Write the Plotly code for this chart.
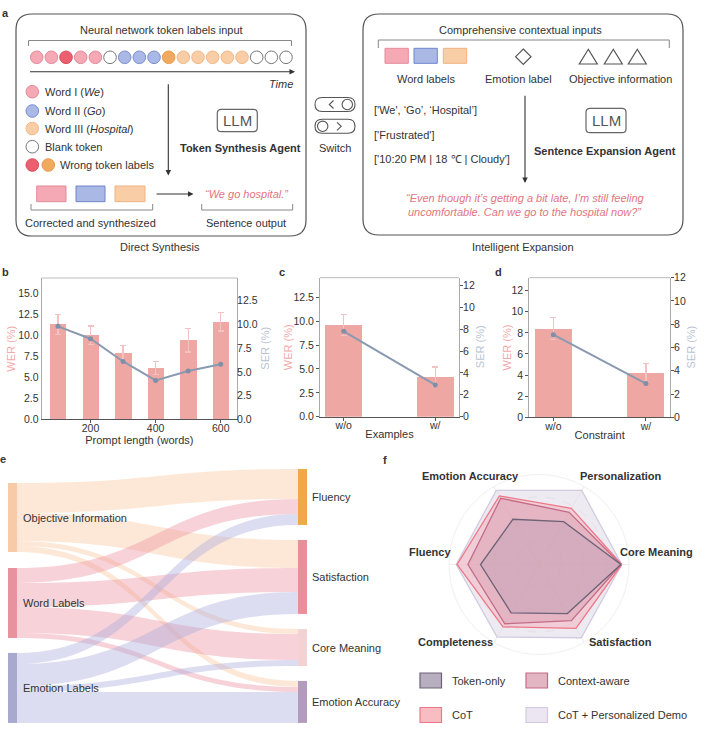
import plotly.graph_objects as go

W, H = 705, 739
FONT = "Liberation Sans, Arial, sans-serif"
TXT = "#333333"

# ---------------- data ----------------
prompt_len = [100, 200, 300, 400, 500, 600]
wer_b = [11.3, 10.0, 7.9, 6.1, 9.4, 11.6]
wer_b_err = [1.2, 1.1, 0.9, 0.8, 1.4, 1.1]
ser_b = [9.8, 8.5, 6.1, 4.1, 5.1, 5.8]

cats = ["w/o", "w/"]
wer_c = [9.6, 4.2]
wer_c_err = [1.1, 1.0]
ser_c = [7.8, 2.9]

wer_d = [8.4, 4.2]
wer_d_err = [1.05, 0.92]
ser_d = [7.1, 2.9]

sankey_sources = ["Objective Information", "Word Labels", "Emotion Labels"]
sankey_targets = ["Fluency", "Satisfaction", "Core Meaning", "Emotion Accuracy"]
flow_objective = [30, 28, 5, 6]
flow_word = [15, 24, 26, 5]
flow_emotion = [11, 22, 6, 31]

radar_dims = ["Core Meaning", "Personalization", "Emotion Accuracy",
              "Fluency", "Completeness", "Satisfaction"]
radar_demo = [92, 95, 95, 92, 93, 94]
radar_cot = [92, 72, 88, 91, 80, 82]
radar_context = [91, 67, 85, 79, 76, 72]
radar_token = [91, 55, 58, 65, 62, 63]

token_seq = ["w1", "w1", "w1x", "w1", "w1", "b", "w2", "w2", "w2",
             "w3x", "w3", "w3", "w3", "w3", "w3", "b", "b", "b"]

# ---------------- helpers (pixel -> paper) ----------------
def X(px):
    return px / W


def Y(py):
    return 1 - py / H


shapes = []
annos = []


def text(x, y, s, size=11, color=TXT, xanchor="center", yanchor="middle", bold=False, angle=0):
    if bold:
        s = "<b>" + s + "</b>"
    annos.append(dict(x=X(x), y=Y(y), xref="paper", yref="paper", text=s, showarrow=False,
                      xanchor=xanchor, yanchor=yanchor, textangle=angle,
                      font=dict(family=FONT, size=size, color=color)))


def rrect(x0, y0, x1, y1, r, line="#555", width=1.2, fill="rgba(0,0,0,0)"):
    p = (f"M{X(x0 + r)},{Y(y0)} L{X(x1 - r)},{Y(y0)} Q{X(x1)},{Y(y0)} {X(x1)},{Y(y0 + r)} "
         f"L{X(x1)},{Y(y1 - r)} Q{X(x1)},{Y(y1)} {X(x1 - r)},{Y(y1)} "
         f"L{X(x0 + r)},{Y(y1)} Q{X(x0)},{Y(y1)} {X(x0)},{Y(y1 - r)} "
         f"L{X(x0)},{Y(y0 + r)} Q{X(x0)},{Y(y0)} {X(x0 + r)},{Y(y0)} Z")
    shapes.append(dict(type="path", path=p, xref="paper", yref="paper",
                       line=dict(color=line, width=width), fillcolor=fill, layer="above"))


def rect(x0, y0, x1, y1, fill, line, width=1):
    shapes.append(dict(type="rect", x0=X(x0), x1=X(x1), y0=Y(y1), y1=Y(y0), xref="paper",
                       yref="paper", fillcolor=fill, line=dict(color=line, width=width), layer="above"))


def circ(cx, cy, r, fill, line, width=1):
    shapes.append(dict(type="circle", x0=X(cx - r), x1=X(cx + r), y0=Y(cy + r), y1=Y(cy - r),
                       xref="paper", yref="paper", fillcolor=fill,
                       line=dict(color=line, width=width), layer="above"))


def poly(pts, line="#555", width=1.2, fill="rgba(0,0,0,0)", close=False):
    p = "M" + " L".join(f"{X(a)},{Y(b)}" for a, b in pts)
    if close:
        p += " Z"
    shapes.append(dict(type="path", path=p, xref="paper", yref="paper",
                       line=dict(color=line, width=width), fillcolor=fill, layer="above"))


def arrow(xt, yt, xh, yh, color="#333"):
    annos.append(dict(x=X(xh), y=Y(yh), xref="paper", yref="paper", text="", showarrow=True,
                      ax=xt - xh, ay=yt - yh, arrowhead=2, arrowsize=1, arrowwidth=1.1,
                      arrowcolor=color))


# ---------------- panel a ----------------
tok_col = {
    "w1": ("#f4a9b5", "#e48a9b"),
    "w1x": ("#ec5f6e", "#dd4e5f"),
    "w2": ("#aab8e6", "#7c8fcf"),
    "w3": ("#f9cda6", "#f2b889"),
    "w3x": ("#f1a960", "#e99a4f"),
    "b": ("#ffffff", "#777777"),
}

text(5, 13, "a", bold=True)
rrect(16, 14, 306, 236, 16)
rrect(363, 14, 683, 235, 16)
text(160, 247, "Direct Synthesis")
text(523, 247, "Intelligent Expansion")

# left box
text(161.5, 29.5, "Neural network token labels input")
poly([(28.5, 46), (28.5, 40.5), (291.5, 40.5), (291.5, 46)], line="#888", width=1)
x_start, x_step = 36.7, (286 - 36.7) / 17
for i, t in enumerate(token_seq):
    f, l = tok_col[t]
    circ(x_start + i * x_step, 57.3, 6.3, f, l)
arrow(28.5, 71.7, 295, 71.7)
annos.append(dict(x=X(295), y=Y(83.5), xref="paper", yref="paper", text="<i>Time</i>",
                  showarrow=False, xanchor="right", yanchor="middle",
                  font=dict(family=FONT, size=11, color=TXT)))

leg_rows = [("w1", "Word I (<i>We</i>)", 91.7), ("w2", "Word II (<i>Go</i>)", 111),
            ("w3", "Word III (<i>Hospital</i>)", 128.5), ("b", "Blank token", 146.7)]
for t, s, yy in leg_rows:
    f, l = tok_col[t]
    circ(32.3, yy, 6.3, f, l)
    text(42.5, yy, s, xanchor="left")
circ(32.3, 165, 6.3, *tok_col["w1x"])
circ(48.3, 165, 6.3, *tok_col["w3x"])
text(58.3, 165, "Wrong token labels", xanchor="left")

arrow(168.3, 82.7, 168.3, 175.5)
rrect(217.3, 109.3, 257.3, 131.7, 4, line="#666", width=1.2)
text(237.3, 120.8, "LLM", size=15, color="#555")
text(240, 147.7, "Token Synthesis Agent", bold=True)

rect(36.7, 186, 66, 201.7, "#f4a9b5", "#e48a9b")
rect(76, 186, 105, 201.7, "#aab8e6", "#7085c8")
rect(115, 186, 145, 201.7, "#f9cda6", "#f0b283")
poly([(31, 204), (31, 210), (152.7, 210), (152.7, 204)], line="#888", width=1)
text(90.7, 222.7, "Corrected and synthesized")
arrow(155, 194, 193.5, 194)
text(246.7, 194, "<i>\u201cWe go hospital.\u201d</i>", color="#e2757f")
poly([(201.7, 204), (201.7, 210), (292.7, 210), (292.7, 204)], line="#888", width=1)
text(246, 222.7, "Sentence output")

# switch icon
rrect(315, 97.5, 355, 111.5, 7, line="#555", width=1.1)
circ(347.3, 104.5, 5.2, "white", "#555", 1.1)
poly([(333.5, 100.5), (329.3, 104.5), (333.5, 108.5)], line="#555", width=1.1)
rrect(315, 119.3, 355, 133.3, 7, line="#555", width=1.1)
circ(322.7, 126.3, 5.2, "white", "#555", 1.1)
poly([(337, 122.3), (341.2, 126.3), (337, 130.3)], line="#555", width=1.1)
text(335, 148, "Switch")

# right box
text(520, 29.5, "Comprehensive contextual inputs")
poly([(378.3, 48), (378.3, 40), (669.3, 40), (669.3, 48)], line="#888", width=1)
rect(385, 48.3, 408.3, 63.3, "#f4a9b5", "#e48a9b")
rect(414, 48.3, 437.3, 63.3, "#aab8e6", "#7085c8")
rect(443.3, 48.3, 466.7, 63.3, "#f9cda6", "#f0b283")
text(425.5, 78.5, "Word labels")
poly([(523.3, 49), (531, 56.7), (523.3, 64.4), (515.6, 56.7)], line="#555", width=1.2, close=True)
text(518.5, 78.5, "Emotion label")
for cx in (588.3, 613.3, 637.3):
    poly([(cx, 49.3), (cx + 9, 64), (cx - 9, 64)], line="#555", width=1.2, close=True)
text(620.5, 78.5, "Objective information")
text(371.5, 110, "['We', \u2018Go\u2019, \u2018Hospital\u2019]", xanchor="left")
text(371.5, 135, "['Frustrated']", xanchor="left")
text(371.5, 159.3, "['10:20 PM | 18 \u2103 | Cloudy']", xanchor="left")
arrow(525, 94.3, 525, 183)
rrect(586, 108.3, 626, 132.7, 4, line="#666", width=1.2)
text(606, 120.5, "LLM", size=15, color="#555")
text(605, 151, "Sentence Expansion Agent", bold=True)
text(525, 197.7, "<i>\u201cEven though it\u2019s getting a bit late, I\u2019m still feeling</i>", color="#e2757f")
text(525, 211.7, "<i>uncomfortable. Can we go to the hospital now?\u201d</i>", color="#e2757f")

# ---------------- panels b, c, d ----------------
BAR = "#efa7a3"
ERR = "#f3c2c2"
LINE = "#8a9ab0"
WERC = "#f2a9a9"
SERC = "#b9c3d3"

fig = go.Figure()


def add_bar_line(xv, wer, err, ser, xa, ya, ya2, width):
    fig.add_trace(go.Bar(x=xv, y=wer, width=width, marker=dict(color=BAR, line=dict(width=0)),
                         error_y=dict(type="data", array=err, color=ERR, thickness=1.2, width=3),
                         xaxis=xa, yaxis=ya, showlegend=False, hoverinfo="skip"))
    fig.add_trace(go.Scatter(x=xv, y=ser, mode="lines+markers",
                             line=dict(color=LINE, width=2), marker=dict(color="#7f8fa6", size=5),
                             xaxis=xa, yaxis=ya2, showlegend=False, hoverinfo="skip"))


add_bar_line(prompt_len, wer_b, wer_b_err, ser_b, "x", "y", "y2", 50)
add_bar_line(cats, wer_c, wer_c_err, ser_c, "x2", "y3", "y4", 0.4)
add_bar_line(cats, wer_d, wer_d_err, ser_d, "x3", "y5", "y6", 0.4)

tickf = dict(family=FONT, size=10.5, color=TXT)


def xax(domain, anchor, title, **kw):
    d = dict(domain=domain, anchor=anchor, showline=True, linecolor="#555", linewidth=1,
             ticks="outside", ticklen=3, tickcolor="#555", tickfont=tickf, showgrid=False,
             zeroline=False, automargin=False, ticklabelstandoff=-4,
             title=dict(text=title, font=dict(family=FONT, size=11, color=TXT), standoff=0))
    d.update(kw)
    return d


def yax(anchor, rng, dtick, fmt, side="left", **kw):
    d = dict(anchor=anchor, range=rng, dtick=dtick, tickformat=fmt, side=side,
             showline=True, linecolor="#aaa", linewidth=1, ticks="outside", ticklen=3,
             tickcolor="#555", tickfont=tickf, showgrid=False, zeroline=False, automargin=False)
    d.update(kw)
    return d


bx = [X(41.7), X(237)]
by = [Y(419.3), Y(278)]
cx_ = [X(320), X(459)]
cy_ = [Y(416.7), Y(277.7)]
dx_ = [X(529.3), X(670)]
dy_ = [Y(417.3), Y(277.7)]

layout_axes = dict(
    xaxis=xax(bx, "y", "Prompt length (words)", range=[50, 650], tickvals=[200, 400, 600]),
    yaxis=yax("x", [0, 16.8], 2.5, ".1f", domain=by, ticks=""),
    yaxis2=yax("x", [0, 14.9], 2.5, ".1f", side="right", overlaying="y", ticks="",
               ticklabelstandoff=-3),
    xaxis2=xax(cx_, "y3", "Examples", type="category", range=[-0.26, 1.26]),
    yaxis3=yax("x2", [0, 14.55], 2.5, ".1f", domain=cy_),
    yaxis4=yax("x2", [0, 12.7], 2, "d", side="right", overlaying="y3", ticklabelstandoff=-2),
    xaxis3=xax(dx_, "y5", "Constraint", type="category", range=[-0.26, 1.26]),
    yaxis5=yax("x3", [0, 13.23], 2, "d", domain=dy_),
    yaxis6=yax("x3", [0, 12], 2, "d", side="right", overlaying="y5", ticklabelstandoff=-2),
)

# y-axis titles (rotated text)
for xx, yy, s, col in [(11, 348.7, "WER (%)", WERC), (265, 348.7, "SER (%)", SERC),
                       (288, 347.2, "WER (%)", WERC), (480, 347.2, "SER (%)", SERC),
                       (506, 347.5, "WER (%)", WERC), (690, 347.5, "SER (%)", SERC)]:
    text(xx, yy, s, color=col, angle=-90)

# top frame lines of the three plots
for xd, yd in ((bx, by), (cx_, cy_), (dx_, dy_)):
    shapes.append(dict(type="line", xref="paper", yref="paper", x0=xd[0], x1=xd[1], y0=yd[1],
                       y1=yd[1], line=dict(color="#bbb", width=1)))

text(5, 272, "b", bold=True)
text(282.3, 272, "c", bold=True)
text(498.5, 272, "d", bold=True)

# ---------------- panel e : sankey ----------------
node_colors = ["#f7cba8", "#e8929e", "#a9a9cf", "#f0a848", "#e8909a", "#f4d2d4", "#b39bbd"]
src_link_colors = ["rgba(250,200,160,0.42)", "rgba(234,140,155,0.38)", "rgba(170,170,220,0.40)"]
flows = [flow_objective, flow_word, flow_emotion]
link_src, link_tgt, link_val, link_col = [], [], [], []
for si, fl in enumerate(flows):
    for ti, v in enumerate(fl):
        link_src.append(si)
        link_tgt.append(3 + ti)
        link_val.append(v)
        link_col.append(src_link_colors[si])

fig.add_trace(go.Sankey(
    domain=dict(x=[X(8), X(307)], y=[Y(723), Y(469)]),
    arrangement="fixed",
    node=dict(label=[""] * 7, pad=15, thickness=9, color=node_colors, line=dict(width=0),
              x=[0.015, 0.015, 0.015, 0.985, 0.985, 0.985, 0.985],
              y=[0.191, 0.5276, 0.862, 0.110, 0.425, 0.703, 0.917],
              hoverinfo="skip"),
    link=dict(source=link_src, target=link_tgt, value=link_val, color=link_col, hoverinfo="skip"),
))

text(3, 459, "e", bold=True)
for name, yy in zip(sankey_sources, [517.5, 603, 688]):
    text(21, yy, name, xanchor="left")
for name, yy in zip(sankey_targets, [497, 577, 647.5, 702]):
    text(310, yy, name, xanchor="left")

# ---------------- panel f : radar ----------------
theta = radar_dims + [radar_dims[0]]
radar_specs = [
    (radar_demo, "CoT + Personalized Demo", "rgba(222,216,232,0.55)", "#d2cbe0"),
    (radar_cot, "CoT", "rgba(246,160,172,0.38)", "#ee7888"),
    (radar_context, "Context-aware", "rgba(214,150,172,0.45)", "#c46c86"),
    (radar_token, "Token-only", "rgba(160,140,165,0.22)", "#6d6276"),
]
for vals, name, fc, lc in radar_specs:
    fig.add_trace(go.Scatterpolar(r=vals + [vals[0]], theta=theta, fill="toself", fillcolor=fc,
                                  line=dict(color=lc, width=1.3), mode="lines", name=name,
                                  showlegend=False, hoverinfo="skip"))

R = 90
pcx, pcy = 539, 564.5
polar = dict(
    domain=dict(x=[X(pcx - R), X(pcx + R)], y=[Y(pcy + R), Y(pcy - R)]),
    bgcolor="white",
    gridshape="circular",
    radialaxis=dict(range=[0, 100], showticklabels=False, ticks="", showline=False,
                    tickvals=[25, 50, 75], gridcolor="#e6e6e6", griddash="dash"),
    angularaxis=dict(categoryorder="array", categoryarray=radar_dims, rotation=0,
                     direction="counterclockwise", showticklabels=False, ticks="",
                     showline=True, linecolor="#f0f0f0", gridcolor="#ececec"),
)

text(385, 460, "f", bold=True)
for s, xx, yy in [("Emotion Accuracy", 470, 476), ("Personalization", 620.5, 476),
                  ("Fluency", 430, 552), ("Core Meaning", 656, 552),
                  ("Completeness", 455, 642.3), ("Satisfaction", 620, 642.3)]:
    text(xx, yy, s, bold=True)

# manual legend for radar
leg = [("Token-only", 420, 680.5, "rgba(175,165,185,0.9)", "#6d6276"),
       ("Context-aware", 526, 680.5, "rgba(226,178,192,0.95)", "#c46c86"),
       ("CoT", 420, 715, "rgba(248,185,192,0.95)", "#ee7888"),
       ("CoT + Personalized Demo", 526, 715, "rgba(234,229,240,0.95)", "#d2cbe0")]
for s, lx, ly, fc, lc in leg:
    rect(lx, ly - 7.5, lx + 21.5, ly + 7.5, fc, lc, 1.2)
    text(lx + 30, ly, s, xanchor="left")

fig.update_layout(
    template="none",
    width=W, height=H, margin=dict(l=0, r=0, t=0, b=0, pad=0, autoexpand=False),
    paper_bgcolor="white", plot_bgcolor="rgba(0,0,0,0)",
    font=dict(family=FONT, size=11, color=TXT),
    showlegend=False, bargap=0,
    shapes=shapes, annotations=annos, polar=polar,
    **layout_axes,
)

fig.write_html("out.html", config={"displayModeBar": False},
               post_script="document.body.style.margin='0';document.body.style.padding='0';")
